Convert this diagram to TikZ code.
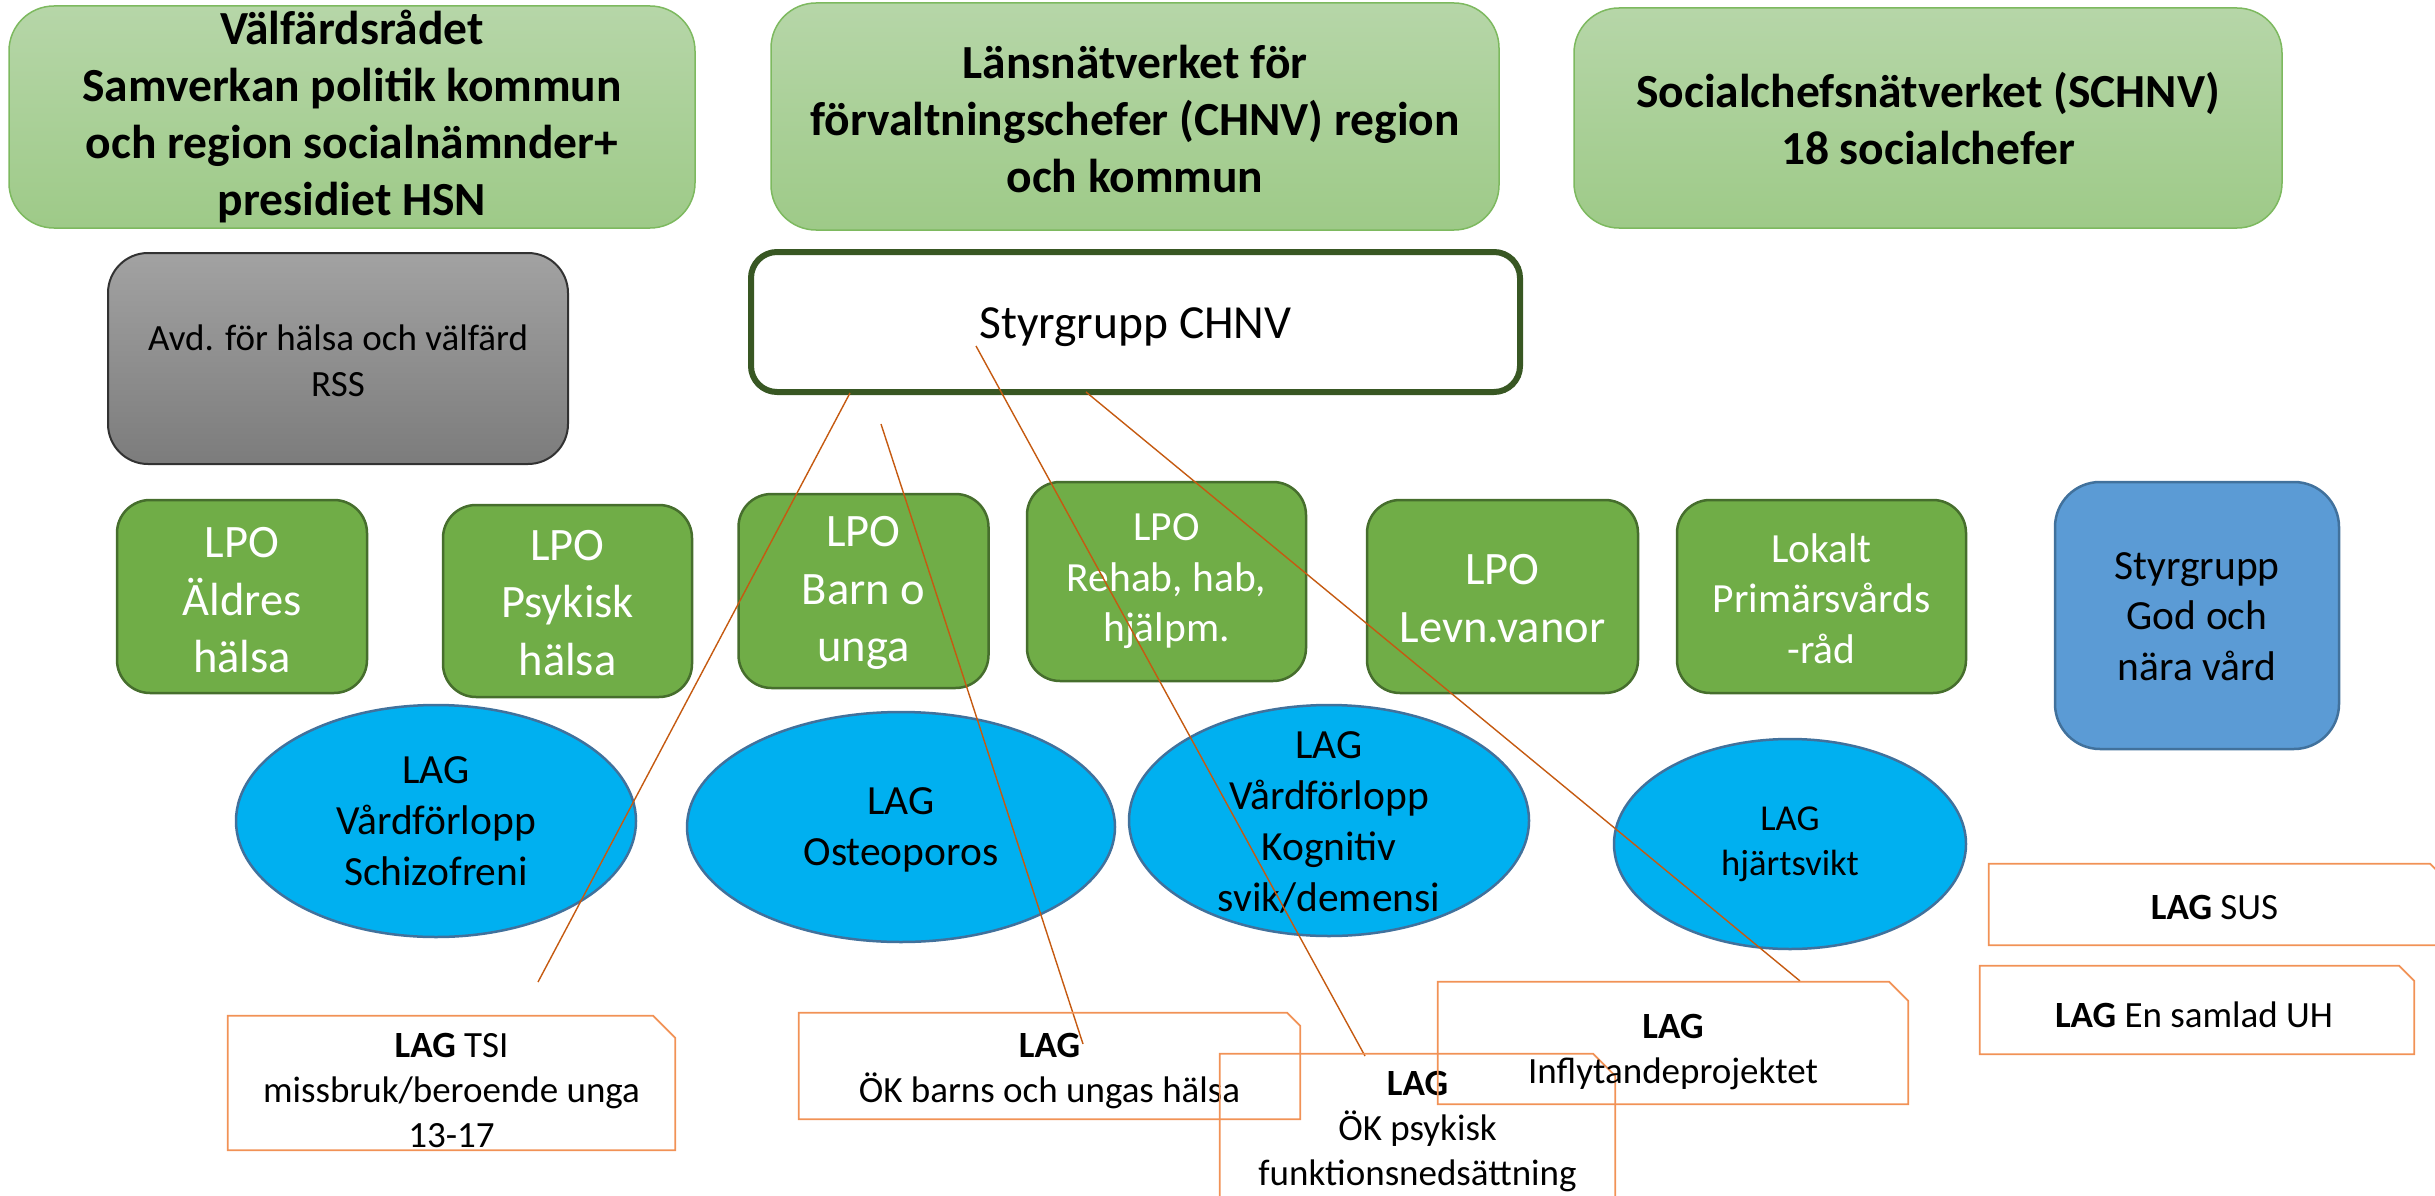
\documentclass[tikz,border=0pt]{standalone}
\usepackage{fontspec}
\setmainfont{Carlito}
\usetikzlibrary{shapes.geometric}
\definecolor{toptop}{RGB}{182,214,168}
\definecolor{topbot}{RGB}{158,202,136}
\definecolor{topedge}{RGB}{125,185,95}
\definecolor{lpofill}{RGB}{112,173,71}
\definecolor{lpoedge}{RGB}{70,110,45}
\definecolor{graytop}{RGB}{162,162,162}
\definecolor{graybot}{RGB}{124,124,124}
\definecolor{grayedge}{RGB}{50,50,50}
\definecolor{chnvedge}{RGB}{56,87,35}
\definecolor{godfill}{RGB}{91,155,213}
\definecolor{godedge}{RGB}{65,113,156}
\definecolor{ellfill}{RGB}{0,176,240}
\definecolor{elledge}{RGB}{65,113,156}
\definecolor{calledge}{RGB}{241,146,86}
\definecolor{pointcol}{RGB}{197,90,17}
\newcommand\calloutframe[2]{\draw[calloutline] (#1.south west) -- (#1.north west) -- ([xshift=-#2]#1.north east) -- ([yshift=-#2]#1.north east) -- (#1.south east) -- cycle;}
\begin{document}
\begin{tikzpicture}[x=1pt,y=-1pt,
  topbox/.style={rectangle, rounded corners=45pt, draw=topedge, line width=1.5pt, top color=toptop, bottom color=topbot, inner sep=0pt},
  toptext/.style={align=center, inner sep=0pt, font=\bfseries\fontsize{47.5}{57}\selectfont},
  graybox/.style={rectangle, rounded corners=40pt, draw=grayedge, line width=2pt, top color=graytop, bottom color=graybot, inner sep=0pt},
  graytext/.style={align=center, inner sep=0pt, font=\fontsize{37}{46}\selectfont},
  chnvbox/.style={rectangle, rounded corners=26pt, draw=chnvedge, line width=6pt, fill=white, inner sep=0pt},
  chnvtext/.style={align=center, inner sep=0pt, font=\fontsize{47.5}{57}\selectfont},
  lpobox/.style={rectangle, rounded corners=33pt, draw=lpoedge, line width=2.5pt, fill=lpofill, inner sep=0pt},
  lpotext/.style={align=center, inner sep=0pt, text=white, font=\fontsize{46.5}{57.5}\selectfont},
  lposmall/.style={align=center, inner sep=0pt, text=white, font=\fontsize{41.5}{50.5}\selectfont},
  godbox/.style={rectangle, rounded corners=45pt, draw=godedge, line width=2.5pt, fill=godfill, inner sep=0pt},
  godtext/.style={align=center, inner sep=0pt, font=\fontsize{41.5}{50.5}\selectfont},
  lagell/.style={ellipse, draw=elledge, line width=2.5pt, fill=ellfill, inner sep=0pt},
  lagtext/.style={align=center, inner sep=0pt, font=\fontsize{41.5}{51}\selectfont},
  lagsmall/.style={align=center, inner sep=0pt, font=\fontsize{36.5}{45}\selectfont},
  callbox/.style={rectangle, draw=none, inner sep=0pt, align=center, font=\fontsize{37}{45}\selectfont},
  calltext/.style={align=center, inner sep=0pt, font=\fontsize{37}{45}\selectfont},
  calloutline/.style={draw=calledge, line width=1.8pt},
  pointer/.style={draw=pointcol, line width=1.4pt}
]
\useasboundingbox (0,0) rectangle (2435,1196);
\clip (0,0) rectangle (2435,1196);

% top row
\node[topbox, minimum width=686pt, minimum height=222pt] (vr) at (352,117) {};
\node[toptext] (vrt) at (vr.center) {Välfärdsrådet\\Samverkan politik kommun\\och region socialnämnder+\\presidiet HSN};
\node[topbox, minimum width=728pt, minimum height=227pt] (ln) at (1135,116.5) {};
\node[toptext] (lnt) at ([yshift=-3pt]ln.center) {Länsnätverket för\\förvaltningschefer (CHNV) region\\och kommun};
\node[topbox, minimum width=708pt, minimum height=220pt] (sc) at (1928,118) {};
\node[toptext] (sct) at ([yshift=-1pt]sc.center) {Socialchefsnätverket (SCHNV)\\18 socialchefer};

% second row
\node[graybox, minimum width=460pt, minimum height=211pt] (avd) at (338,358.5) {};
\node[graytext] (avdt) at ([yshift=-2pt]avd.center) {Avd. för hälsa och välfärd\\RSS};
\node[chnvbox, minimum width=769pt, minimum height=140pt] (chnv) at (1135.5,322) {};
\node[chnvtext] (chnvt) at ([yshift=-5pt]chnv.center) {Styrgrupp CHNV};

% LPO row
\node[lpobox, minimum width=250pt, minimum height=193pt] (aeld) at (242,596.5) {};
\node[lpotext] (aeldt) at ([yshift=-4pt]aeld.center) {LPO\\Äldres\\hälsa};
\node[lpobox, minimum width=249pt, minimum height=192pt] (psyk) at (567.5,601) {};
\node[lpotext] (psykt) at ([yshift=-2pt]psyk.center) {LPO\\Psykisk\\hälsa};
\node[lpobox, minimum width=250pt, minimum height=194pt] (barn) at (863.5,591) {};
\node[lpotext] (barnt) at ([yshift=-2pt]barn.center) {LPO\\Barn o\\unga};
\node[lpobox, minimum width=279pt, minimum height=199pt] (rehab) at (1166.5,581.5) {};
\node[lposmall] (rehabt) at (rehab.center) {LPO\\Rehab, hab,\\hjälpm.};
\node[lpobox, minimum width=271pt, minimum height=193pt] (levn) at (1502.5,596.5) {};
\node[lpotext] (levnt) at ([yshift=-2pt]levn.center) {LPO\\Levn.vanor};
\node[lpobox, minimum width=289pt, minimum height=193pt] (lok) at (1821.5,596.5) {};
\node[lposmall] (lokt) at ([yshift=-2pt]lok.center) {Lokalt\\Primärsvårds\\-råd};
\node[godbox, minimum width=284pt, minimum height=267pt] (god) at (2197,615.5) {};
\node[godtext] (godt) at ([yshift=-1pt]god.center) {Styrgrupp\\God och\\nära vård};

% LAG ellipses
\node[lagell, minimum width=400pt, minimum height=232pt] (schiz) at (436,821) {};
\node[lagtext] (schizt) at (schiz.center) {LAG\\Vårdförlopp\\Schizofreni};
\node[lagell, minimum width=428pt, minimum height=230pt] (osteo) at (901,827) {};
\node[lagtext] (osteot) at ([yshift=-3pt]osteo.center) {LAG\\Osteoporos};
\node[lagell, minimum width=400pt, minimum height=231pt] (kogn) at (1329,820.5) {};
\node[lagtext] (kognt) at ([yshift=-2pt]kogn.center) {LAG\\Vårdförlopp\\Kognitiv\\svik/demensi};
\node[lagell, minimum width=352pt, minimum height=210pt] (hjart) at (1790,844) {};
\node[lagsmall] (hjartt) at (hjart.center) {LAG\\hjärtsvikt};

% pointer lines
\coordinate (p1a) at (850,393);  \coordinate (p1b) at (538,982);
\coordinate (p2a) at (881,424);  \coordinate (p2b) at (1083,1044);
\coordinate (p3a) at (976,346);  \coordinate (p3b) at (1365,1056);
\coordinate (p4a) at (1086,392); \coordinate (p4b) at (1800,981);
\draw[pointer] (p1a) -- (p1b);
\draw[pointer] (p2a) -- (p2b);
\draw[pointer] (p3a) -- (p3b);
\draw[pointer] (p4a) -- (p4b);

% callouts
\node[callbox, minimum width=447pt, minimum height=134pt] (tsi) at (451.5,1083) {};
\node[calltext] (tsit) at ([yshift=-7pt]tsi.center) {\textbf{LAG} TSI\\missbruk/beroende unga\\13-17};
\calloutframe{tsi}{22pt}
\node[callbox, minimum width=501pt, minimum height=106pt] (okb) at (1049.5,1066) {};
\node[calltext] (okbt) at ([yshift=-5pt]okb.center) {\textbf{LAG}\\ÖK barns och ungas hälsa};
\calloutframe{okb}{13pt}
\node[callbox, minimum width=395pt, minimum height=186pt] (okp) at (1417.5,1147) {};
\node[calltext] (okpt) at (1417.5,1132) {\textbf{LAG}\\ÖK psykisk\\funktionsnedsättning};
\calloutframe{okp}{22pt}
\node[callbox, minimum width=470pt, minimum height=122pt] (infl) at (1673,1043) {};
\node[calltext] (inflt) at ([yshift=-9pt]infl.center) {\textbf{LAG}\\Inflytandeprojektet};
\calloutframe{infl}{19pt}
\node[callbox, minimum width=459pt, minimum height=81pt] (sus) at (2218.5,904.5) {};
\node[calltext] (sust) at ([xshift=-4pt,yshift=-3pt]sus.center) {\textbf{LAG} SUS};
\calloutframe{sus}{18pt}
\node[callbox, minimum width=434pt, minimum height=88pt] (uh) at (2197,1010) {};
\node[calltext] (uht) at ([xshift=-3pt,yshift=-5pt]uh.center) {\textbf{LAG} En samlad UH};
\calloutframe{uh}{15pt}
\end{tikzpicture}
\end{document}
